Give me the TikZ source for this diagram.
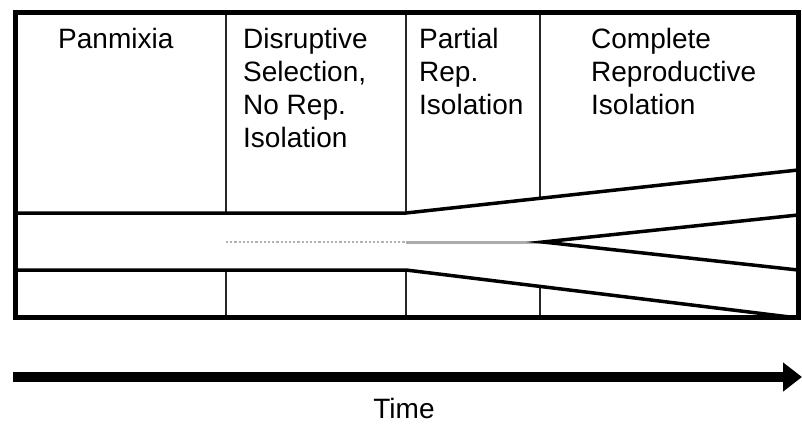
\documentclass[tikz,border=0pt]{standalone}
\usepackage{fontspec}
\setmainfont{Liberation Sans}
\usetikzlibrary{arrows.meta}
\newcommand{\stackl}[1]{\vtop{\fontsize{28}{33}\selectfont\halign{##\hfil\cr#1\crcr}}}
\begin{document}
\begin{tikzpicture}[x=1pt,y=-1pt,
  frame/.style={line width=5pt},
  thinline/.style={line width=1.3pt,black!85},
  branch/.style={line width=3.5pt,line join=miter},
  lbl/.style={anchor=base west,inner sep=0pt,font=\fontsize{28}{33}\selectfont},
  timearrow/.style={line width=10pt,-{Triangle[length=19pt,width=28pt]}}]
\useasboundingbox (0,0) rectangle (802,423);
% key points
\coordinate (TL) at (15.5,12.5);
\coordinate (BR) at (798,317.5);
\coordinate (uL) at (15.5,213);
\coordinate (uM) at (406,213);
\coordinate (uR) at (798,170);
\coordinate (lL) at (15.5,270);
\coordinate (lM) at (406,270);
\coordinate (lR) at (798,318);
\coordinate (mA) at (226,242);
\coordinate (mB) at (406,242);
\coordinate (mC) at (543,242);
\coordinate (fU) at (798,215);
\coordinate (fL) at (798,270);
% column dividers
\draw[thinline] (226,12.5) -- (226,213) (226,270) -- (226,317.5);
\draw[thinline] (406,12.5) -- (406,213) (406,270) -- (406,317.5);
\draw[thinline] (540,12.5) -- (540,198.4) (540,286.4) -- (540,317.5);
% middle lineage
\draw[gray!60,line width=2.2pt,dotted] (mA) -- (mB);
\draw[gray!65,line width=3pt] (mB) -- (mC);
% branches
\draw[branch] (uL) -- (uM) -- (uR);
\draw[branch] (lL) -- (lM) -- (lR);
\draw[branch] (fU) -- (mC) -- (fL);
% frame
\draw[frame] (TL) rectangle (BR);
% labels
\node[lbl] (pan) at (58,48) {Panmixia};
\node[lbl] (dis) at (243,48) {\stackl{Disruptive\cr Selection,\cr No Rep.\cr Isolation}};
\node[lbl] (par) at (419,48) {\stackl{Partial\cr Rep.\cr Isolation}};
\node[lbl] (com) at (591,48) {\stackl{Complete\cr Reproductive\cr Isolation}};
% time arrow
\coordinate (aS) at (12.7,377);
\coordinate (aE) at (802,377);
\draw[timearrow] (aS) -- (aE);
\node[anchor=base,inner sep=0pt,font=\fontsize{28}{33}\selectfont] (time) at (404,418) {Time};
\end{tikzpicture}
\end{document}
